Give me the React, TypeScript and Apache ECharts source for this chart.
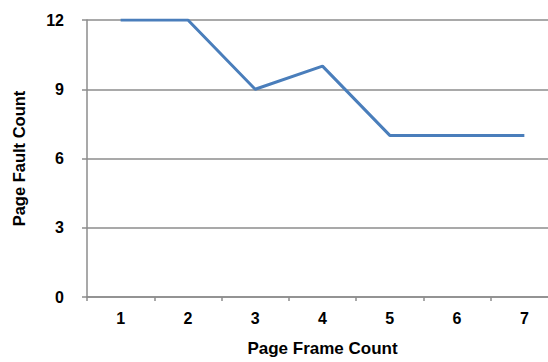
import React, { useEffect, useRef } from "react";
import * as echarts from "echarts";

const categories = ["1", "2", "3", "4", "5", "6", "7"];
const faults = [12, 12, 9, 10, 7, 7, 7];

export default function App() {
  const ref = useRef<HTMLDivElement>(null);
  useEffect(() => {
    if (!ref.current) return;
    const chart = echarts.init(ref.current, undefined, { renderer: "svg" });
    const font = "'Liberation Sans', Arial, Helvetica, sans-serif";
    chart.setOption({
      animation: false,
      backgroundColor: "#ffffff",
      grid: { left: 87, right: 22, top: 20, bottom: 64.5, containLabel: false },
      xAxis: {
        type: "category",
        data: categories,
        boundaryGap: true,
        name: "Page Frame Count",
        nameLocation: "middle",
        nameGap: 43,
        nameTextStyle: { fontFamily: font, fontWeight: "bold", fontSize: 17, color: "#000" },
        axisLine: { lineStyle: { color: "#8c8c8c", width: 1.5 } },
        axisTick: { show: true, length: 4, lineStyle: { color: "#8c8c8c", width: 1.5 } },
        axisLabel: { fontFamily: font, fontWeight: "bold", fontSize: 16, color: "#000", margin: 13 },
        splitLine: { show: false },
      },
      yAxis: {
        type: "value",
        min: 0,
        max: 12,
        interval: 3,
        name: "Page Fault Count",
        nameLocation: "middle",
        nameGap: 60,
        nameRotate: 90,
        nameTextStyle: { fontFamily: font, fontWeight: "bold", fontSize: 16.5, color: "#000" },
        axisLine: { show: true, lineStyle: { color: "#8c8c8c", width: 1.5 } },
        axisTick: { show: true, length: 5, lineStyle: { color: "#8c8c8c", width: 1.5 } },
        axisLabel: { fontFamily: font, fontWeight: "bold", fontSize: 16, color: "#000", margin: 23 },
        splitLine: { show: true, lineStyle: { color: "#8c8c8c", width: 1.5 } },
      },
      series: [
        {
          type: "line",
          data: faults,
          symbol: "none",
          lineStyle: { color: "#4a7ebb", width: 3 },
        },
      ],
    });
    return () => chart.dispose();
  }, []);
  return (
    <div
      style={{
        position: "absolute",
        left: 0,
        top: 0,
        width: 548,
        height: 362,
        overflow: "hidden",
        background: "#fff",
      }}
    >
      <div ref={ref} style={{ width: 580, height: 362 }} />
    </div>
  );
}
